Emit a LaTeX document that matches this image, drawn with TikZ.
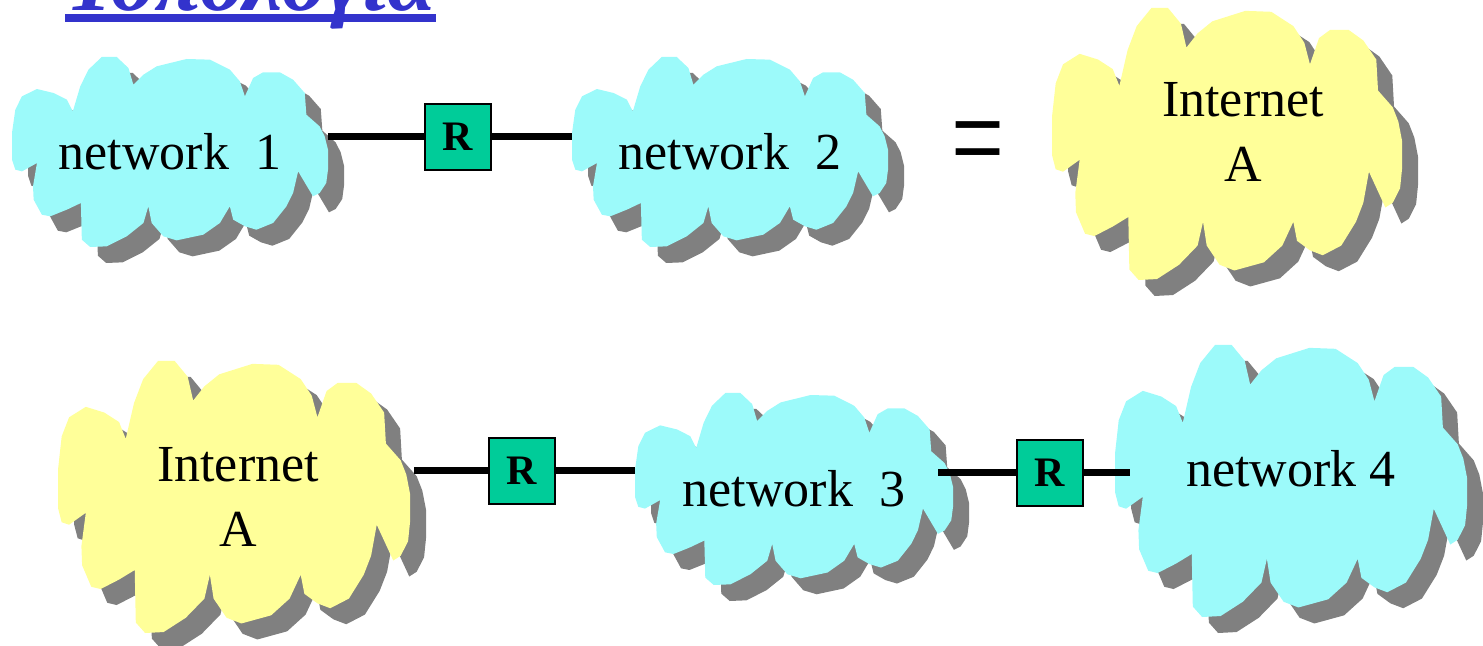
\documentclass[tikz,border=0pt]{standalone}
\usepackage{fontspec}
\usepackage{graphicx}
\setmainfont{Liberation Serif}
\setsansfont{Liberation Sans}

\definecolor{NetCyan}{HTML}{9CFAFA}
\definecolor{NetYellow}{HTML}{FFFF99}
\definecolor{CloudShadow}{HTML}{808080}
\definecolor{RouterGreen}{HTML}{00CC99}
\definecolor{TitleBlue}{HTML}{3333CC}

% cloud outline, unit half-size, y pointing down
\newcommand{\cloudshape}{(-1,-0.2) -- (-0.979,-0.446) -- (-0.937,-0.586) -- (-0.842,-0.663)
  -- (-0.737,-0.621) -- (-0.653,-0.551) -- (-0.615,-0.428) -- (-0.568,-0.691) -- (-0.516,-0.867)
  -- (-0.432,-1) -- (-0.337,-1) -- (-0.263,-0.884) -- (-0.232,-0.709) -- (-0.168,-0.814)
  -- (-0.084,-0.902) -- (0.105,-0.979) -- (0.253,-0.972) -- (0.379,-0.867) -- (0.442,-0.744)
  -- (0.474,-0.586) -- (0.526,-0.779) -- (0.589,-0.839) -- (0.695,-0.839) -- (0.779,-0.761)
  -- (0.853,-0.621) -- (0.863,-0.393) -- (0.947,-0.270) -- (0.979,-0.165) -- (1,-0.025)
  -- (1,0.186) -- (0.989,0.326) -- (0.947,0.432) -- (0.905,0.467) -- (0.811,0.204)
  -- (0.779,0.432) -- (0.737,0.572) -- (0.653,0.747) -- (0.547,0.818) -- (0.474,0.782)
  -- (0.4,0.712) -- (0.379,0.572) -- (0.316,0.747) -- (0.211,0.870) -- (0.042,0.930)
  -- (-0.042,0.888) -- (-0.116,0.747) -- (-0.137,0.572) -- (-0.168,0.747) -- (-0.274,0.888)
  -- (-0.4,0.993) -- (-0.505,1) -- (-0.558,0.923) -- (-0.564,0.537) -- (-0.653,0.607)
  -- (-0.758,0.677) -- (-0.811,0.660) -- (-0.863,0.502) -- (-0.867,0.361) -- (-0.842,0.116)
  -- (-0.937,0.204) -- (-0.979,0.186) -- (-1,0.081) -- cycle}

% \netcloud[node options]{name}{cx}{cy}{half width}{half height}{colour}{text}
\newcommand{\netcloud}[8][]{%
  \fill[CloudShadow,shift={(#3+16,#4+16)},xscale=#5,yscale=#6] \cloudshape;
  \fill[#7,shift={(#3,#4)},xscale=#5,yscale=#6] \cloudshape;
  \node[cloudlabel,minimum width=#5pt,minimum height=#6pt,#1] (#2) at (#3,#4) {#8};}

\begin{document}
\begin{tikzpicture}[x=0.5pt,y=-0.5pt,
    link/.style={line width=3.5pt},
    router/.style={draw=black,line width=0.8pt,fill=RouterGreen,minimum size=33pt,
      inner sep=0pt,font=\fontsize{21}{24}\selectfont\bfseries},
    cloudlabel/.style={inner sep=0pt,align=center,font=\fontsize{26}{32.5}\selectfont}]

\useasboundingbox (0,0) rectangle (1483,646);

% Title (cut off at the top edge)
\node[anchor=base west,inner sep=0pt,text=TitleBlue,
  font=\fontsize{44}{50}\selectfont\bfseries\itshape] (title) at (65,11) {Τοπολογία};
\draw[TitleBlue,line width=4pt] ([yshift=-3.5pt]title.base west) -- ([yshift=-3.5pt]title.base east);

% ---- TOP ROW ----
\netcloud{net1}{170}{152}{158}{95}{NetCyan}{network~~1}
\netcloud{net2}{730}{152}{158}{95}{NetCyan}{network~~2}
\netcloud[xshift=8pt,yshift=6pt]{inetA}{1227}{144}{175}{136}{NetYellow}{Internet\\A}

\node[router] (r1) at (458,137) {R};
\draw[link] (net1.east |- r1) -- (r1.west);
\draw[link] (r1.east) -- (net2.west |- r1);

\node[inner sep=0pt,font=\fontsize{47}{50}\selectfont] (eq) at (978,153) {\scalebox{1}[1.44]{=}};

% ---- BOTTOM ROW ----
\netcloud[xshift=2pt]{inetB}{234}{497}{176}{136}{NetYellow}{Internet\\A}
\netcloud{net3}{794}{489}{159}{96}{NetCyan}{network~~3}
\netcloud[yshift=6pt]{net4}{1291}{481}{176}{136}{NetCyan}{network 4}

\node[router] (r2) at (522,471) {R};
\node[router] (r3) at (1050,473) {R};
\coordinate (n3out) at ([xshift=-7.5pt]net3.east);
\coordinate (n4in) at ([xshift=7.5pt]net4.west);
\draw[link] (inetB.east |- r2) -- (r2.west);
\draw[link] (r2.east) -- (net3.west |- r2);
\draw[link] (n3out |- r3) -- (r3.west);
\draw[link] (r3.east) -- (n4in |- r3);

\end{tikzpicture}
\end{document}
